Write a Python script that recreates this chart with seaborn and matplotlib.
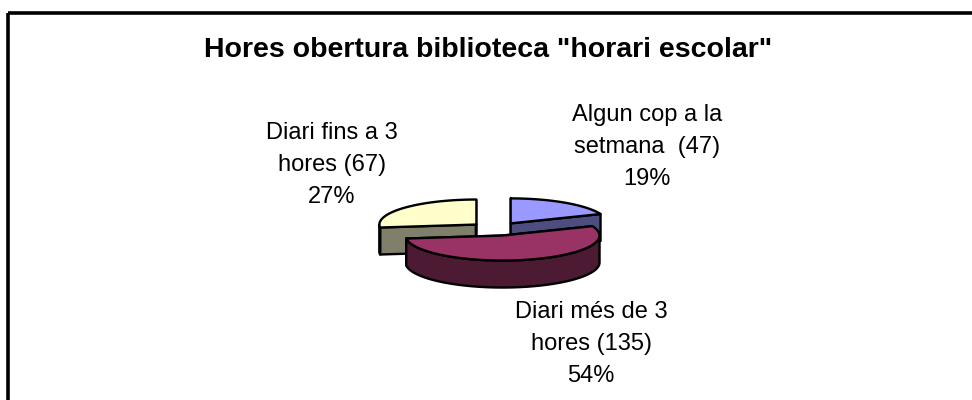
import numpy as np
import matplotlib
matplotlib.use("Agg")
import matplotlib.pyplot as plt
from matplotlib.patches import Polygon, Rectangle
import seaborn as sns

# data
labels = ["Algun cop a la\nsetmana ", "Diari més de 3\nhores", "Diari fins a 3\nhores"]
counts = [47, 135, 67]
title = 'Hores obertura biblioteca "horari escolar"'

# style
top_colors = ["#9999FF", "#993366", "#FFFFCC"]
side_colors = ["#4D4D80", "#4D1A33", "#80806A"]
label_pos = [(647, 147), (591, 344), (332, 165)]

sns.set_theme(style="white")
plt.rcParams["font.family"] = ["Liberation Sans", "DejaVu Sans"]
plt.rcParams["text.color"] = "black"

# pie geometry in pixel units
CX, CY = 496, 229
RX, RY = 97, 25
DEPTH = 27
EXPLODE = 0.27

fig = plt.figure(figsize=(9.72, 4), dpi=100)
ax = fig.add_axes([0, 0, 1, 1])
ax.set_xlim(0, 972)
ax.set_ylim(400, 0)
ax.axis("off")

# frame (cropped on right and bottom)
ax.add_patch(Rectangle((8, 13), 1000, 420, fill=False, edgecolor="black", lw=2.6))

ax.text(488, 57, title, ha="center", va="baseline", fontsize=20.5, fontweight="bold")

total = sum(counts)
fracs = np.array(counts) / total
ends = np.cumsum(fracs) * 360
starts = ends - fracs * 360


def rim(ox, oy, a0, a1, n=60, dy=0):
    t = np.radians(np.linspace(a0, a1, n))
    return np.column_stack([ox + RX * np.sin(t), oy - RY * np.cos(t) + dy])


slices = []
for i in range(len(counts)):
    mid = np.radians((starts[i] + ends[i]) / 2)
    ox = CX + EXPLODE * RX * np.sin(mid)
    oy = CY - EXPLODE * RY * np.cos(mid)
    slices.append((np.cos(mid), i, ox, oy))

# paint back to front
z = 2
for _, i, ox, oy in sorted(slices, reverse=True):
    a0, a1 = starts[i], ends[i]
    kw = dict(edgecolor="black", lw=1.7, joinstyle="round")
    # radial cut faces
    for a in (a0, a1):
        p = rim(ox, oy, a, a, n=1)[0]
        face = [(ox, oy), tuple(p), (p[0], p[1] + DEPTH), (ox, oy + DEPTH)]
        ax.add_patch(Polygon(face, facecolor=side_colors[i], zorder=z, **kw))
        z += 1
    # outer curved side (front half only)
    s0, s1 = max(a0, 90), min(a1, 270)
    if s1 > s0:
        upper = rim(ox, oy, s0, s1)
        lower = rim(ox, oy, s0, s1, dy=DEPTH)[::-1]
        ax.add_patch(Polygon(np.vstack([upper, lower]), facecolor=side_colors[i], zorder=z, **kw))
        z += 1
    # top face
    top = np.vstack([[(ox, oy)], rim(ox, oy, a0, a1)])
    ax.add_patch(Polygon(top, facecolor=top_colors[i], zorder=z, **kw))
    z += 1

for i in range(len(counts)):
    txt = f"{labels[i]} ({counts[i]})\n{fracs[i] * 100:.0f}%"
    ax.text(*label_pos[i], txt, ha="center", va="center", fontsize=17,
            linespacing=1.6, zorder=20)

fig.savefig("out.png", dpi=100, facecolor="white")
